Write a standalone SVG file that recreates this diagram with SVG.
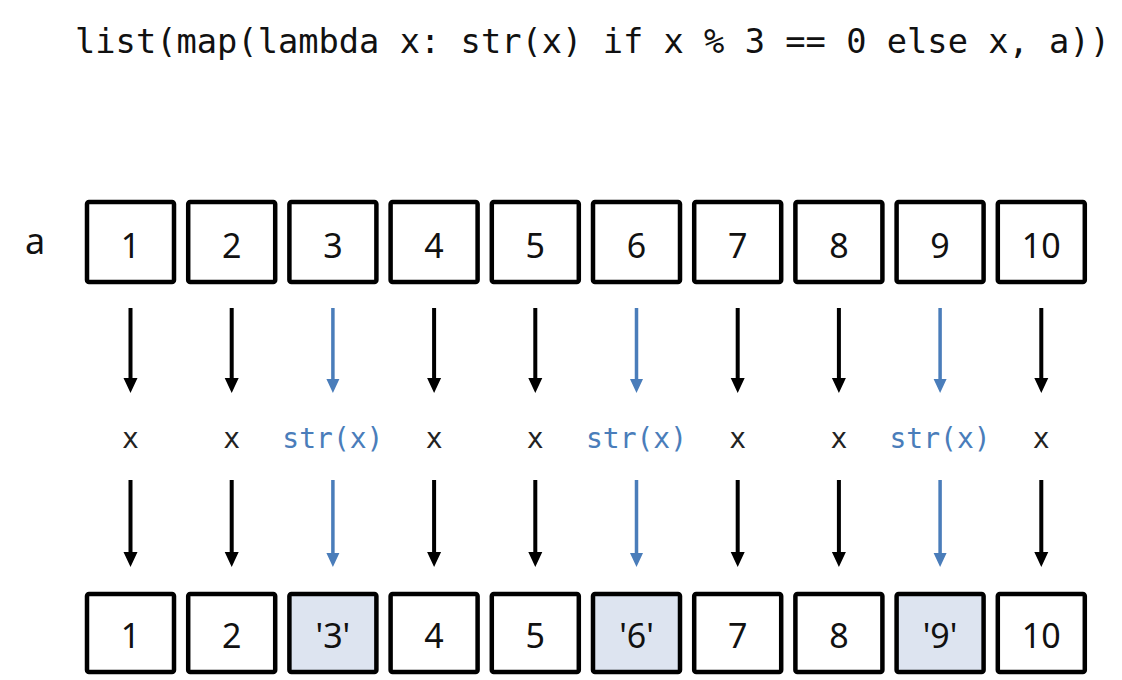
<svg xmlns="http://www.w3.org/2000/svg" width="1122" height="680" viewBox="0 0 1122 680">
<style>
.code{font-family:"DejaVu Sans Mono","Liberation Mono",monospace;fill:#111}
.lbl{font-family:"DejaVu Sans Mono","Liberation Mono",monospace;font-size:28px;text-anchor:middle;fill:#222}
.lbl.b{fill:#4a7dba}
.box{fill:#fff;stroke:#000;stroke-width:4.5}
.box.h{fill:#dde4f0}
.num{font-family:"Noto Sans","DejaVu Sans",sans-serif;font-size:34px;text-anchor:middle;fill:#111}
.ak{stroke:#000;stroke-width:4;fill:none}
.ab{stroke:#4a7dba;stroke-width:3.5;fill:none}
</style>
<defs>
<marker id="hk" markerUnits="userSpaceOnUse" markerWidth="16" markerHeight="16" viewBox="0 0 16 16" refX="8" refY="15" orient="auto-start-reverse"><path d="M1,0 L15,0 L8,15 Z" fill="#000" transform="rotate(-90 8 8)"/></marker>
</defs>
<text class="code" x="75" y="53" font-size="34" textLength="1035" lengthAdjust="spacingAndGlyphs">list(map(lambda x: str(x) if x % 3 == 0 else x, a))</text>
<text x="35" y="254" font-family="Noto Sans, DejaVu Sans, sans-serif" font-size="36" text-anchor="middle" fill="#111">a</text>
<g id="top-row">
<g id="a1"><rect class="box" x="87" y="202" width="87" height="80" rx="2"/><text class="num" x="130.5" y="258">1</text></g>
<g id="a2"><rect class="box" x="188.2" y="202" width="87" height="80" rx="2"/><text class="num" x="231.7" y="258">2</text></g>
<g id="a3"><rect class="box" x="289.4" y="202" width="87" height="80" rx="2"/><text class="num" x="332.9" y="258">3</text></g>
<g id="a4"><rect class="box" x="390.6" y="202" width="87" height="80" rx="2"/><text class="num" x="434.1" y="258">4</text></g>
<g id="a5"><rect class="box" x="491.8" y="202" width="87" height="80" rx="2"/><text class="num" x="535.3" y="258">5</text></g>
<g id="a6"><rect class="box" x="593" y="202" width="87" height="80" rx="2"/><text class="num" x="636.5" y="258">6</text></g>
<g id="a7"><rect class="box" x="694.2" y="202" width="87" height="80" rx="2"/><text class="num" x="737.7" y="258">7</text></g>
<g id="a8"><rect class="box" x="795.4" y="202" width="87" height="80" rx="2"/><text class="num" x="838.9" y="258">8</text></g>
<g id="a9"><rect class="box" x="896.6" y="202" width="87" height="80" rx="2"/><text class="num" x="940.1" y="258">9</text></g>
<g id="a10"><rect class="box" x="997.8" y="202" width="87" height="80" rx="2"/><text class="num" x="1041.3" y="258">10</text></g>
</g>
<g id="mid-labels">
<text class="lbl" x="130.5" y="448">x</text>
<text class="lbl" x="231.7" y="448">x</text>
<text class="lbl b" x="332.9" y="448">str(x)</text>
<text class="lbl" x="434.1" y="448">x</text>
<text class="lbl" x="535.3" y="448">x</text>
<text class="lbl b" x="636.5" y="448">str(x)</text>
<text class="lbl" x="737.7" y="448">x</text>
<text class="lbl" x="838.9" y="448">x</text>
<text class="lbl b" x="940.1" y="448">str(x)</text>
<text class="lbl" x="1041.3" y="448">x</text>
</g>
<g id="connectors">
<g fill="#000">
<path class="ak" d="M130.5,308V380M231.7,308V380M434.1,308V380M535.3,308V380M737.7,308V380M838.9,308V380M1041.3,308V380"/>
<path class="ak" d="M130.5,480V553M231.7,480V553M434.1,480V553M535.3,480V553M737.7,480V553M838.9,480V553M1041.3,480V553"/>
<path stroke="none" d="M123.5,378h14l-7,15zM224.7,378h14l-7,15zM427.1,378h14l-7,15zM528.3,378h14l-7,15zM730.7,378h14l-7,15zM831.9,378h14l-7,15zM1034.3,378h14l-7,15z"/>
<path stroke="none" d="M123.5,552h14l-7,15zM224.7,552h14l-7,15zM427.1,552h14l-7,15zM528.3,552h14l-7,15zM730.7,552h14l-7,15zM831.9,552h14l-7,15zM1034.3,552h14l-7,15z"/>
</g>
<g fill="#4a7dba">
<path class="ab" d="M332.9,308V380M636.5,308V380M940.1,308V380M332.9,480V553M636.5,480V553M940.1,480V553"/>
<path stroke="none" d="M326.4,379h13l-6.5,14zM630,379h13l-6.5,14zM933.6,379h13l-6.5,14zM326.4,553h13l-6.5,14zM630,553h13l-6.5,14zM933.6,553h13l-6.5,14z"/>
</g>
</g>
<g id="bottom-row">
<g id="r1"><rect class="box" x="87" y="594" width="87" height="78" rx="2"/><text class="num" x="130.5" y="648">1</text></g>
<g id="r2"><rect class="box" x="188.2" y="594" width="87" height="78" rx="2"/><text class="num" x="231.7" y="648">2</text></g>
<g id="r3"><rect class="box h" x="289.4" y="594" width="87" height="78" rx="2"/><text class="num" x="332.9" y="648">'3'</text></g>
<g id="r4"><rect class="box" x="390.6" y="594" width="87" height="78" rx="2"/><text class="num" x="434.1" y="648">4</text></g>
<g id="r5"><rect class="box" x="491.8" y="594" width="87" height="78" rx="2"/><text class="num" x="535.3" y="648">5</text></g>
<g id="r6"><rect class="box h" x="593" y="594" width="87" height="78" rx="2"/><text class="num" x="636.5" y="648">'6'</text></g>
<g id="r7"><rect class="box" x="694.2" y="594" width="87" height="78" rx="2"/><text class="num" x="737.7" y="648">7</text></g>
<g id="r8"><rect class="box" x="795.4" y="594" width="87" height="78" rx="2"/><text class="num" x="838.9" y="648">8</text></g>
<g id="r9"><rect class="box h" x="896.6" y="594" width="87" height="78" rx="2"/><text class="num" x="940.1" y="648">'9'</text></g>
<g id="r10"><rect class="box" x="997.8" y="594" width="87" height="78" rx="2"/><text class="num" x="1041.3" y="648">10</text></g>
</g>
</svg>
